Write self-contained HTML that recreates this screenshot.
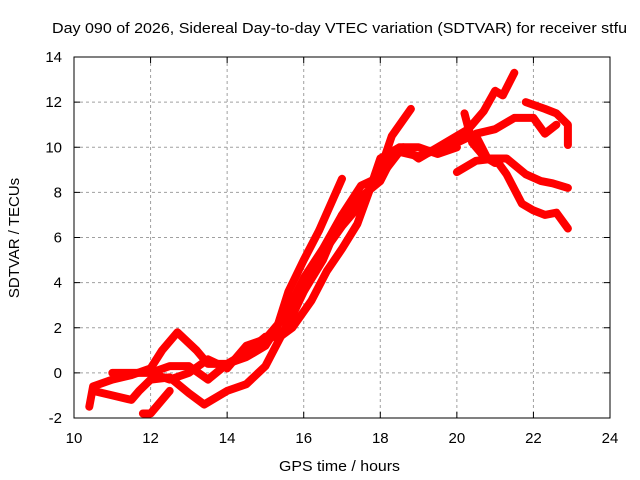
<!DOCTYPE html>
<html><head><meta charset="utf-8"><style>
body{margin:0;background:#fff}
svg{display:block;font-family:"Liberation Sans",sans-serif}
</style></head><body>
<svg id="chart" width="640" height="480" viewBox="0 0 640 480">
<text x="52" y="33" font-size="15" textLength="575" lengthAdjust="spacingAndGlyphs">Day 090 of 2026, Sidereal Day-to-day VTEC variation (SDTVAR) for receiver stfu</text>
<text x="279" y="471" font-size="15" textLength="121" lengthAdjust="spacingAndGlyphs">GPS time / hours</text>
<text transform="translate(19,238) rotate(-90)" font-size="15" text-anchor="middle">SDTVAR / TECUs</text>
<g id="grid"></g><g id="ticks"></g><g id="series"></g>
<rect x="74" y="57" width="536" height="361" fill="none" stroke="#000" stroke-width="1"/>
</svg>
<script>
const xTicks=[10,12,14,16,18,20,22,24];
const yTicks=[-2,0,2,4,6,8,10,12,14];
const track1x=[10.4,10.5,11,11.5,12,12.3,12.7,13.2,13.5,14,14.5,15,15.3,15.6,16,16.4,17];
const track1y=[-1.5,-0.6,-0.3,-0.1,0.2,1.0,1.8,1.0,0.4,0.4,0.7,1.2,2,3.6,5,6.3,8.6];
const track2x=[11.8,12,12.5];
const track2y=[-1.8,-1.8,-0.8];
const track3x=[10.5,11,11.5,11.7,12,12.5,13,13.4,14,14.5,15,15.4,16,16.5,17,17.5,18,18.3,18.8];
const track3y=[-0.8,-1.0,-1.2,-0.8,-0.3,-0.2,-0.9,-1.4,-0.8,-0.5,0.3,1.6,3.6,5.3,6.5,7.5,9,10.5,11.7];
const track4x=[11,12,12.5,13,13.5,14,14.5,15,15.5,16,16.5,17,17.5,18,18.5,19,19.5,20,20.5,21,21.5,22,22.3,22.6];
const track4y=[0,0,0.3,0.3,-0.3,0.4,0.9,1.6,1.8,3.6,5,7,8.3,8.7,9.8,9.6,9.9,10.2,10.6,10.8,11.3,11.3,10.6,11.0];
const track5x=[12,12.5,13,13.5,14,14.5,15,15.5,16,16.5,17,17.5,18,18.3,18.6,19,19.5,20,20.3,20.7,21,21.2,21.5];
const track5y=[0,-0.3,0,0.6,0.2,1.2,1.5,2.5,4.2,5.5,7,7.8,8.5,9.5,10,9.5,10,10.5,10.8,11.6,12.5,12.3,13.3];
const track6x=[15.3,15.7,16.2,16.6,17,17.4,17.7,18,18.5,19,19.5,20];
const track6y=[1.5,2,3.2,4.5,5.5,6.6,8,9.5,10,10,9.7,10];
const track7x=[20.5,20.8,21.3,21.8,22.2,22.5,22.9];
const track7y=[10.5,9.5,9.5,8.8,8.5,8.4,8.2];
const track8x=[20,20.5,21,21.3,21.7,22,22.3,22.6,22.9];
const track8y=[8.9,9.4,9.5,8.8,7.5,7.2,7.0,7.1,6.4];
const track9x=[21.8,22.3,22.6,22.9,22.9];
const track9y=[12,11.7,11.5,11.0,10.1];
const track10x=[20.2,20.4,20.7,21];
const track10y=[11.5,10.2,9.6,9.3];
const tracksX=[track1x,track2x,track3x,track4x,track5x,track6x,track7x,track8x,track9x,track10x];
const tracksY=[track1y,track2y,track3y,track4y,track5y,track6y,track7y,track8y,track9y,track10y];
const L=74,R=610,T=57,B=418;
const sx=v=>L+(v-10)/14*(R-L);
const sy=v=>B-(v+2)/16*(B-T);
const NS="http://www.w3.org/2000/svg";
const grid=document.getElementById('grid'),ticks=document.getElementById('ticks'),ser=document.getElementById('series');
function mk(tag,attrs,parent){const e=document.createElementNS(NS,tag);for(const k in attrs)e.setAttribute(k,attrs[k]);parent.appendChild(e);return e;}
xTicks.forEach(t=>{const x=sx(t);
 if(t>10&&t<24){const g=mk('line',{x1:x,x2:x,y1:T,y2:B,stroke:'#a0a0a0','stroke-dasharray':'3,3'},grid);
 
 }
 const k=mk('path',{d:`M${x},${B}v-6M${x},${T}v6`,stroke:'#000'},ticks);
 
 
 const l=mk('text',{x:x,y:443,'font-size':15,'text-anchor':'middle'},ticks);l.textContent=t;
 
 });
yTicks.forEach(t=>{const y=sy(t);
 if(t>-2&&t<14){const g=mk('line',{x1:L,x2:R,y1:y,y2:y,stroke:'#a0a0a0','stroke-dasharray':'3,3'},grid);
 
 }
 const k=mk('path',{d:`M${L},${y}h6M${R},${y}h-6`,stroke:'#000'},ticks);
 
 
 const l=mk('text',{x:62,y:y+5,'font-size':15,'text-anchor':'end'},ticks);l.textContent=t;
 
 });
tracksX.forEach((xs,i)=>{const ys=tracksY[i];
 const d=xs.map((v,j)=>(j?'L':'M')+sx(v).toFixed(1)+','+sy(ys[j]).toFixed(1)).join('');
 const p=mk('path',{d:d,fill:'none',stroke:'#ff0000','stroke-width':8,'stroke-linejoin':'round','stroke-linecap':'round'},ser);
 
 });
</script>
</body></html>
